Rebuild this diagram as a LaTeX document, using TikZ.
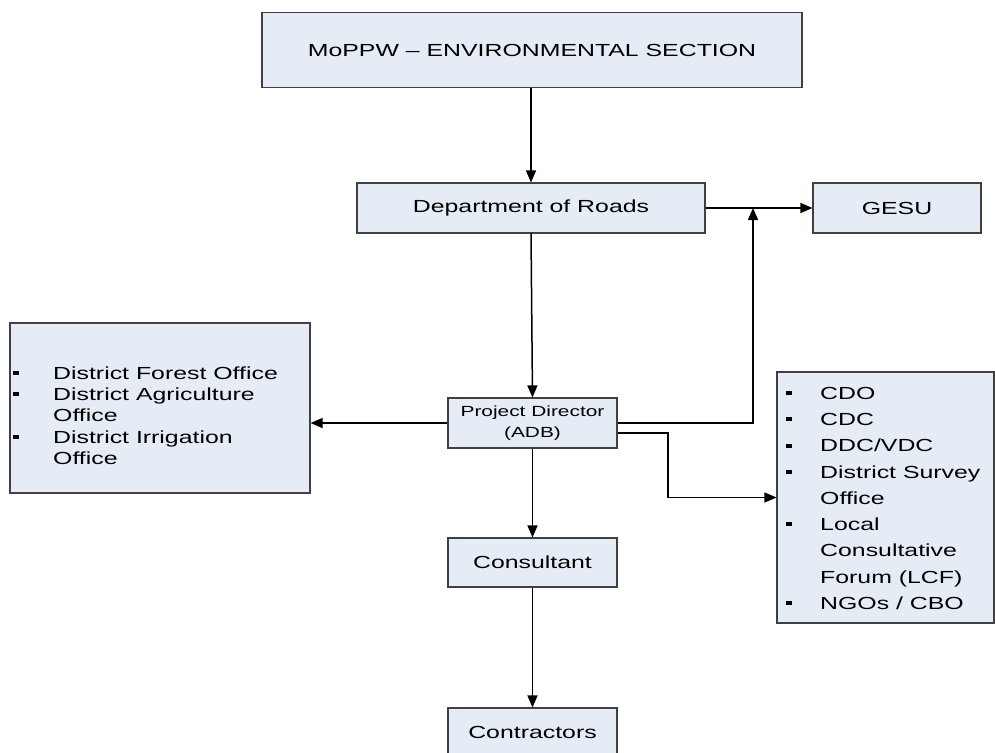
\documentclass[tikz,border=0pt]{standalone}
\usepackage{fontspec}
\setmainfont{Liberation Sans}[FakeStretch=1.42]
\usetikzlibrary{arrows.meta,calc}
\definecolor{boxfill}{RGB}{230,236,246}
\definecolor{boxline}{RGB}{64,64,64}
\begin{document}
\begin{tikzpicture}[x=1pt,y=-1pt,
  box/.style={draw=boxline, fill=boxfill, line width=1.1pt, inner sep=0pt, font=\fontsize{17.5}{21}\selectfont},
  arr/.style={draw=black, line width=1.5pt, -{Triangle[length=12pt,width=10pt]}},
  item/.style={anchor=base west, inner sep=0pt, font=\fontsize{17.5}{21}\selectfont},
  bul/.style={fill=black}]
\useasboundingbox (0,0) rectangle (995,752);

\node[box, minimum width=540pt, minimum height=75pt] (top) at (532,50) {MoPPW – ENVIRONMENTAL SECTION};
\node[box, minimum width=348pt, minimum height=50pt] (dor) at (531,208) {Department of Roads};
\node[box, minimum width=168pt, minimum height=50pt] (gesu) at (897,208) {GESU};
\node[box, minimum width=169pt, minimum height=50pt, align=center, font=\fontsize{14.7}{21}\selectfont] (pd) at (532.5,423) {Project Director\\(ADB)};
\node[box, minimum width=169pt, minimum height=49pt] (cons) at (532.5,562.5) {Consultant};
\node[box, minimum width=169pt, minimum height=49pt] (contr) at (532.5,732.5) {Contractors};
\node[box, minimum width=300pt, minimum height=170pt] (lb) at (160,408) {};
\node[box, minimum width=217pt, minimum height=251pt] (rb) at (885.5,497.5) {};

% left list
\foreach \yy/\t/\b [count=\i] in {373/{District Forest Office}/1, 394.3/{District Agriculture}/1, 415.6/{Office}/0, 436.9/{District Irrigation}/1, 458.2/{Office}/0}{
  \node[item] (l\i) at (53,\yy+6.3) {\t};
  \ifnum\b=1 \fill[bul] (13,\yy-2) rectangle (18.5,\yy+2); \fi
}
% right list
\foreach \yy/\t/\b [count=\i] in {393/{CDO}/1, 419.25/{CDC}/1, 445.5/{DDC/VDC}/1, 471.75/{District Survey}/1, 498/{Office}/0, 524.25/{Local}/1, 550.5/{Consultative}/0, 576.75/{Forum (LCF)}/0, 603/{NGOs / CBO}/1}{
  \node[item] (r\i) at (820,\yy+6.3) {\t};
  \ifnum\b=1 \fill[bul] (786,\yy-2) rectangle (791.5,\yy+2); \fi
}

\coordinate (jn) at (753,208);
\coordinate (bend) at (668,433);

\draw[arr] (dor.north |- top.south) -- (dor.north);
\draw[arr] (dor.south) -- (pd.north);
\draw[arr] (dor.east) -- (gesu.west);
\draw[arr] (pd.east) -| (jn);
\draw[arr] (pd.west) -- (pd.west -| lb.east);
\draw[arr] (pd.east |- bend) -- (bend) |- (rb.west);
\draw[arr] (pd.south) -- (cons.north);
\draw[arr] (cons.south) -- (contr.north);
\end{tikzpicture}
\end{document}
